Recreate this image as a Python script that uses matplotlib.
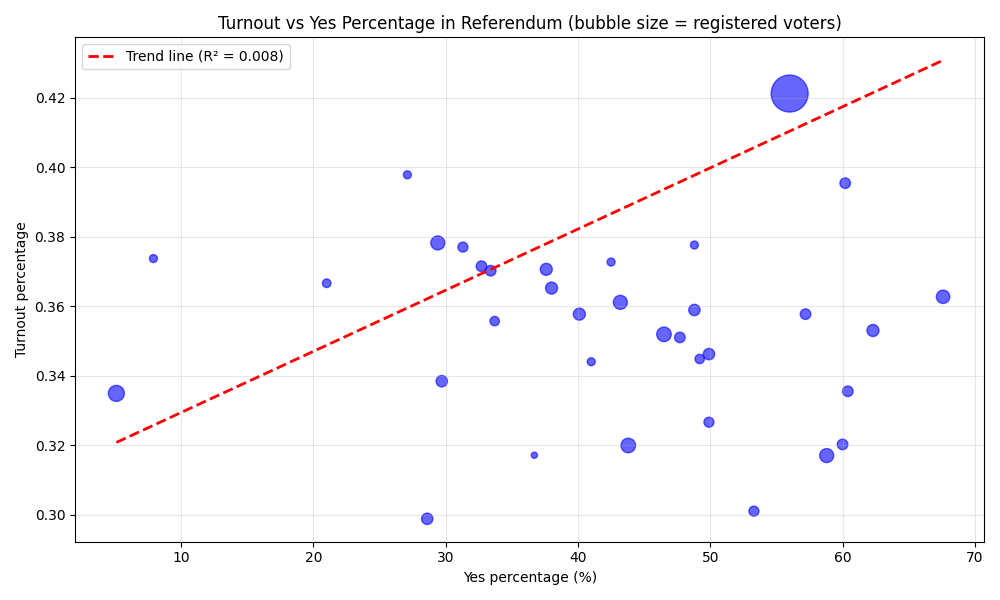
import numpy as np
import matplotlib
matplotlib.use('Agg')
import matplotlib.pyplot as plt

# Yes percentage (%), turnout fraction, registered voters per district
yes_pct = [5.1, 7.9, 21.0, 27.1, 29.4, 31.3, 32.7, 33.4, 33.7, 29.7,
           28.6, 36.7, 37.6, 38.0, 40.1, 41.0, 42.5, 43.2, 43.8, 46.5,
           47.7, 48.8, 48.8, 49.2, 49.9, 49.9, 53.3, 56.0, 57.2, 58.8,
           60.0, 60.2, 60.4, 62.3, 67.6]
turnout = [0.3349, 0.3737, 0.3666, 0.3978, 0.3782, 0.3770, 0.3715, 0.3702, 0.3557, 0.3384,
           0.2988, 0.3171, 0.3706, 0.3652, 0.3577, 0.3440, 0.3727, 0.3611, 0.3199, 0.3519,
           0.3510, 0.3776, 0.3589, 0.3448, 0.3462, 0.3266, 0.3010, 0.4212, 0.3577, 0.3170,
           0.3202, 0.3954, 0.3355, 0.3530, 0.3627]
registered = [266000, 66000, 76000, 66000, 204000, 104000, 116000, 116000, 92000, 134000,
              134000, 40000, 150000, 150000, 150000, 66000, 66000, 204000, 220000, 220000,
              116000, 66000, 134000, 92000, 134000, 104000, 104000, 1420000, 116000, 204000,
              116000, 116000, 116000, 150000, 186000]

# trend line coefficients
slope = 0.00176
intercept = 0.3118
r_squared = 0.008

yes_pct = np.array(yes_pct)
turnout = np.array(turnout)
sizes = np.array(registered) / 2000

plt.figure(figsize=(10, 6))
plt.scatter(yes_pct, turnout, s=sizes, c='blue', alpha=0.6, edgecolors='blue', linewidths=1)

x_line = np.array([yes_pct.min(), yes_pct.max()])
plt.plot(x_line, slope * x_line + intercept, 'r--', linewidth=2,
         label=f'Trend line (R² = {r_squared:.3f})')

plt.xlabel('Yes percentage (%)')
plt.ylabel('Turnout percentage')
plt.title('Turnout vs Yes Percentage in Referendum (bubble size = registered voters)')
plt.legend(loc='upper left')
plt.grid(True, alpha=0.3)
plt.tight_layout()
plt.savefig('out.png', dpi=100)
